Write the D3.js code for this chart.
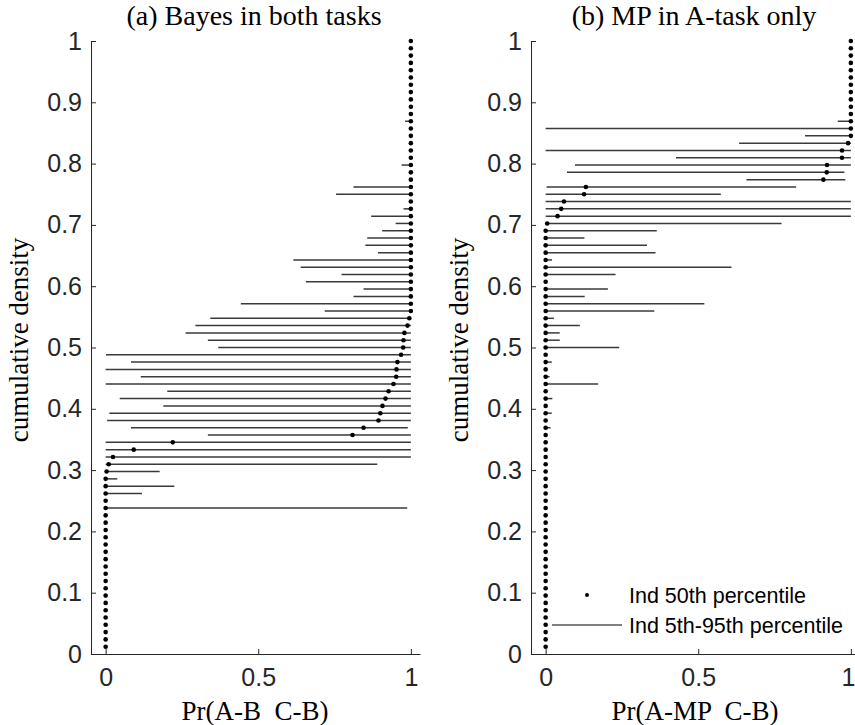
<!DOCTYPE html>
<html>
<head>
<meta charset="utf-8">
<script src="https://cdn.jsdelivr.net/npm/d3@7"></script>
<style>
  body { margin: 0; background: #fff; }
  svg { display: block; }
</style>
</head>
<body>
<svg id="chart" width="855" height="725"></svg>
<script>
// individual medians and 5th/95th percentiles, sorted by median (row 1 at the bottom)
var medA = [0,0,0,0,0,0,0,0,0,0, 0,0,0,0,0,0,0,0,0,0,
  0,0,0,0,0.003,0.010,0.024,0.092,0.220,0.809,
  0.845,0.894,0.900,0.907,0.917,0.927,0.943,0.952,0.953,0.956,
  0.968,0.975,0.976,0.979,0.989,0.995,1,1,1,1,
  1,1,1,1,1,1,1,1,1,1, 1,1,1,1,1,1,1,1,1,1,
  1,1,1,1,1,1,1,1,1,1, 1,1,1,1]
var loA = [0,0,0,0,0,0,0,0,0,0, 0,0,0,0,0,0,0,0,0,0,
  0,0,0,0,0,0,0,0,0,0.335,
  0.083,0.005,0.012,0.189,0.046,0.202,0,0.115,0,0.083,
  0.001,0.369,0.335,0.262,0.294,0.343,0.718,0.443,0.812,0.845,
  0.656,0.773,0.639,0.615,0.892,0.851,0.857,0.906,0.950,0.870,
  0.976,1,0.755,0.812,1,1,0.970,1,1,1,
  1,1,0.981,1,1,1,1,1,1,1, 1,1,1,1]
var hiA = [0,0,0,0,0,0,0,0,0,0, 0,0,0,0,0,0,0,0,0,0.988,
  0,0.119,0.225,0.038,0.177,0.890,1,1,1,1,
  0.990,1,1,1,1,1,1,1,1,1, 1,1,1,1,1,1,1,1,1,1,
  1,1,1,1,1,1,1,1,1,1, 1,1,1,1,1,1,1,1,1,1,
  1,1,1,1,1,1,1,1,1,1, 1,1,1,1]

var medB = [0,0,0,0,0,0,0,0,0,0, 0,0,0,0,0,0,0,0,0,0,
  0,0,0,0,0,0,0,0,0,0, 0,0,0,0,0,0,0,0,0,0,
  0,0,0,0,0,0,0,0,0,0, 0,0,0,0,0,0,0,0,0.005,0.039,
  0.051,0.060,0.126,0.132,0.910,0.921,0.922,0.971,0.971,0.991,
  1,1,1,1,1,1,1,1,1,1, 1,1,1,1]
var loB = [0,0,0,0,0,0,0,0,0,0, 0,0,0,0,0,0,0,0,0,0,
  0,0,0,0,0,0,0,0,0,0, 0,0,0,0,0,0,0,0,0,0,
  0,0,0,0,0,0,0,0,0,0, 0,0,0,0,0,0,0,0,0,0,
  0,0,0,0.003,0.658,0.070,0.096,0.427,0,0.634,
  0.850,0,0.957,1,1,1,1,1,1,1, 1,1,1,1]
var hiB = [0,0,0,0,0,0,0,0,0,0, 0,0,0,0,0,0,0,0,0,0,
  0,0,0,0,0,0,0,0,0,0,
  0.016,0,0.020,0,0.022,0,0.172,0.013,0,0.020,
  0,0.241,0.046,0.046,0.112,0.027,0.356,0.520,0.128,0.204,
  0,0.229,0.609,0.021,0.360,0.332,0.127,0.364,0.773,1,
  1,1,0.574,0.821,0.982,0.979,1,1,1,1,
  1,1,1,1,1,1,1,1,1,1, 1,1,1,1]

var yTicks = [0,0.1,0.2,0.3,0.4,0.5,0.6,0.7,0.8,0.9,1]
var xTicks = [0,0.5,1]

var panels = [
  {title: "(a) Bayes in both tasks", xlabel: "Pr(A-B  C-B)", med: medA, lo: loA, hi: hiA, left: 91},
  {title: "(b) MP in A-task only", xlabel: "Pr(A-MP  C-B)", med: medB, lo: loB, hi: hiB, left: 531, legend: true}
]

var svg = d3.select("#chart")
var axisCol = "#262626"
var sans = "'Liberation Sans', Arial, sans-serif"
var serif = "'Liberation Serif', 'Times New Roman', serif"

var yScale = d3.scaleLinear().domain([0, 1]).range([654, 41])

panels.forEach(function(p){
  var xScale = d3.scaleLinear().domain([-0.048, 1.03]).range([p.left, p.left + 329])
  var n = p.med.length
  var rows = p.med.map(function(m, i){ return {med: m, lo: p.lo[i], hi: p.hi[i], cum: (i + 1) / n} })

  var g = svg.append("g")

  // error bars
  g.selectAll(".bar").data(rows.filter(function(d){ return d.hi > d.lo }))
    .enter().append("line")
    .attr("x1", function(d){ return xScale(d.lo) })
    .attr("x2", function(d){ return xScale(d.hi) })
    .attr("y1", function(d){ return yScale(d.cum) })
    .attr("y2", function(d){ return yScale(d.cum) })
    .style("stroke", "#3a3a3a")
    .style("stroke-width", 1.5)

  g.selectAll(".dot").data(rows)
    .enter().append("circle")
    .attr("cx", function(d){ return xScale(d.med) })
    .attr("cy", function(d){ return yScale(d.cum) })
    .attr("r", 2.3)
    .style("fill", "#000")

  // axes (ticks inward, no box)
  var ya = g.append("g")
    .attr("transform", "translate(" + p.left + ",0)")
    .call(d3.axisLeft(yScale).tickValues(yTicks).tickSize(-5).tickSizeOuter(0).tickPadding(9)
      .tickFormat(function(d){ return d3.format("~g")(d) }))
  var xa = g.append("g")
    .attr("transform", "translate(0,654)")
    .call(d3.axisBottom(xScale).tickValues(xTicks).tickSize(-5).tickSizeOuter(0).tickPadding(14)
      .tickFormat(function(d){ return d3.format("~g")(d) }))
  ;[ya, xa].forEach(function(a){
    a.select(".domain").style("stroke", axisCol)
    a.selectAll(".tick line").style("stroke", axisCol)
    a.selectAll(".tick text").style("fill", axisCol).style("font-family", sans).style("font-size", "25px")
  })
  // last x tick label sits at the window edge
  xa.selectAll(".tick text").filter(function(d){ return d === 1 }).attr("dx", p.legend ? "-3" : "0")

  var cx = p.left + 164
  svg.append("text")
    .attr("x", cx - 1).attr("y", 25)
    .attr("text-anchor", "middle")
    .style("font-family", serif).style("font-size", "28px").style("fill", "#000")
    .text(p.title)

  svg.append("text")
    .attr("x", cx).attr("y", 720)
    .attr("text-anchor", "middle")
    .style("white-space", "pre")
    .style("font-family", serif).style("font-size", "27px").style("fill", "#000")
    .text(p.xlabel)

  svg.append("text")
    .attr("transform", "translate(" + (p.left - 63) + ",340)rotate(-90)")
    .attr("text-anchor", "middle")
    .style("font-family", serif).style("font-size", "27px").style("fill", "#000")
    .text("cumulative density")

  if (p.legend) {
    var lg = svg.append("g")
    lg.append("circle").attr("cx", 587).attr("cy", 595).attr("r", 2).style("fill", "#000")
    lg.append("line").attr("x1", 552).attr("x2", 622).attr("y1", 625).attr("y2", 625)
      .style("stroke", "#000").style("stroke-width", 1)
    lg.append("text").attr("x", 629).attr("y", 603)
      .style("font-family", sans).style("font-size", "21.5px").style("fill", "#000")
      .text("Ind 50th percentile")
    lg.append("text").attr("x", 629).attr("y", 633)
      .style("font-family", sans).style("font-size", "21.5px").style("fill", "#000")
      .text("Ind 5th-95th percentile")
  }
})
</script>
</body>
</html>
